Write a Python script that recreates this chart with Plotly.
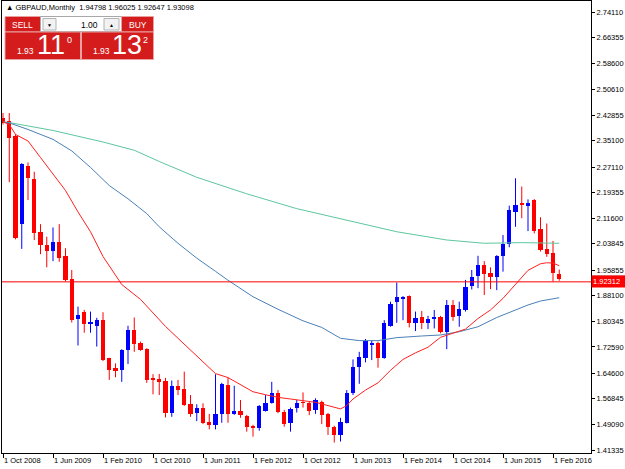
import plotly.graph_objects as go
import pandas as pd

# ---------------- data ----------------
months = [p.strftime("%Y-%m") for p in pd.period_range("2008-10", "2016-03", freq="M")]

open_ = [2.420, 2.410, 2.365, 2.097, 2.274, 2.235, 2.075, 2.035, 2.018, 2.045,
         2.001, 1.932, 1.810, 1.831, 1.794, 1.790, 1.807, 1.691, 1.661, 1.656,
         1.717, 1.777, 1.739, 1.719, 1.630, 1.628, 1.624, 1.527, 1.608, 1.598,
         1.553, 1.525, 1.542, 1.499, 1.489, 1.523, 1.610, 1.523, 1.532, 1.517,
         1.487, 1.481, 1.533, 1.557, 1.587, 1.530, 1.494, 1.542, 1.558, 1.557,
         1.535, 1.560, 1.523, 1.484, 1.459, 1.496, 1.585, 1.664, 1.693, 1.732,
         1.739, 1.693, 1.790, 1.861, 1.872, 1.880, 1.797, 1.817, 1.799, 1.813,
         1.817, 1.772, 1.853, 1.821, 1.838, 1.911, 1.941, 1.974, 1.949, 1.939,
         2.001, 2.038, 2.136, 2.160, 2.154, 2.171, 2.083, 2.023, 2.010, 1.94798]
high = [2.435, 2.435, 2.370, 2.283, 2.285, 2.257, 2.098, 2.060, 2.088, 2.098,
        2.025, 1.959, 1.848, 1.838, 1.833, 1.814, 1.831, 1.693, 1.676, 1.719,
        1.790, 1.815, 1.742, 1.722, 1.643, 1.644, 1.632, 1.624, 1.626, 1.651,
        1.580, 1.552, 1.555, 1.523, 1.643, 1.617, 1.632, 1.608, 1.565, 1.520,
        1.490, 1.550, 1.580, 1.620, 1.595, 1.535, 1.542, 1.565, 1.588, 1.560,
        1.570, 1.563, 1.526, 1.487, 1.511, 1.595, 1.688, 1.711, 1.750, 1.745,
        1.742, 1.807, 1.863, 1.921, 1.880, 1.882, 1.833, 1.835, 1.820, 1.838,
        1.820, 1.868, 1.868, 1.863, 1.929, 1.959, 2.002, 1.986, 1.967, 2.004,
        2.065, 2.154, 2.237, 2.212, 2.173, 2.174, 2.119, 2.100, 2.047, 1.96025]
low = [2.400, 2.225, 2.052, 2.023, 2.171, 2.050, 2.007, 1.967, 1.986, 1.984,
       1.925, 1.800, 1.730, 1.769, 1.769, 1.727, 1.683, 1.626, 1.634, 1.620,
       1.674, 1.711, 1.714, 1.617, 1.582, 1.580, 1.512, 1.514, 1.580, 1.547,
       1.514, 1.501, 1.492, 1.476, 1.476, 1.496, 1.496, 1.520, 1.511, 1.469,
       1.454, 1.472, 1.530, 1.554, 1.525, 1.484, 1.469, 1.527, 1.542, 1.519,
       1.523, 1.492, 1.459, 1.436, 1.439, 1.494, 1.580, 1.614, 1.679, 1.686,
       1.663, 1.690, 1.787, 1.799, 1.807, 1.785, 1.774, 1.780, 1.780, 1.782,
       1.767, 1.719, 1.805, 1.787, 1.833, 1.900, 1.904, 1.883, 1.901, 1.898,
       1.954, 2.028, 2.090, 2.116, 2.077, 2.070, 2.015, 1.999, 1.924, 1.92647]
close = [2.405, 2.360, 2.057, 2.280, 2.239, 2.072, 2.035, 2.018, 2.045, 1.996,
         1.929, 1.807, 1.823, 1.794, 1.802, 1.807, 1.686, 1.656, 1.654, 1.717,
         1.777, 1.734, 1.717, 1.626, 1.627, 1.620, 1.525, 1.606, 1.595, 1.550,
         1.523, 1.542, 1.496, 1.489, 1.523, 1.613, 1.523, 1.533, 1.519, 1.484,
         1.481, 1.548, 1.557, 1.587, 1.530, 1.492, 1.537, 1.557, 1.556, 1.533,
         1.565, 1.519, 1.484, 1.459, 1.497, 1.587, 1.666, 1.696, 1.745, 1.737,
         1.693, 1.797, 1.856, 1.878, 1.874, 1.797, 1.815, 1.799, 1.812, 1.815,
         1.772, 1.853, 1.817, 1.840, 1.907, 1.939, 1.974, 1.946, 1.939, 2.001,
         2.038, 2.141, 2.156, 2.157, 2.163, 2.077, 2.020, 2.007, 1.949, 1.93098]

# moving averages (bar index, value)
ma_red_idx = [0, 1, 2, 4, 6, 8, 10, 12, 14, 16, 18, 19, 22, 24, 26, 28, 30, 32, 34, 36,
              38, 40, 42, 44, 46, 48, 50, 52, 54, 55, 56, 58, 60, 62, 64, 66, 68, 70,
              72, 74, 76, 78, 80, 82, 84, 86, 87, 88, 89]
ma_red_val = [2.408, 2.40, 2.37, 2.35, 2.30, 2.25, 2.20, 2.135, 2.075, 2.00, 1.945, 1.915,
              1.87, 1.828, 1.788, 1.752, 1.716, 1.68, 1.645, 1.633, 1.612, 1.59, 1.581,
              1.573, 1.568, 1.562, 1.558, 1.548, 1.538, 1.548, 1.568, 1.595, 1.617, 1.655,
              1.688, 1.708, 1.725, 1.755, 1.768, 1.78, 1.812, 1.838, 1.873, 1.915, 1.958,
              1.978, 1.981, 1.980, 1.972]
ma_blue_idx = [0, 1, 4, 8, 11, 14, 17, 20, 23, 25, 28, 31, 34, 36, 40, 44, 48, 51, 54,
               57, 60, 63, 67, 70, 73, 76, 79, 82, 84, 86, 89]
ma_blue_val = [2.408, 2.405, 2.385, 2.355, 2.32, 2.27, 2.215, 2.175, 2.13, 2.09, 2.04,
               1.995, 1.955, 1.928, 1.878, 1.84, 1.805, 1.785, 1.752, 1.745, 1.745, 1.754,
               1.759, 1.762, 1.772, 1.787, 1.815, 1.838, 1.853, 1.865, 1.875]
ma_green_idx = [0, 1, 8, 16, 21, 25, 31, 39, 47, 55, 63, 71, 77, 83, 89]
ma_green_val = [2.408, 2.406, 2.382, 2.347, 2.322, 2.288, 2.24, 2.19, 2.145, 2.11,
                2.075, 2.05, 2.04, 2.042, 2.04]

y_ticks = [2.74110, 2.66355, 2.58600, 2.50610, 2.42855, 2.35100, 2.27110, 2.19355,
           2.11600, 2.03845, 1.95855, 1.88100, 1.80345, 1.72590, 1.64600, 1.56845,
           1.49090, 1.41335]
x_tick_idx = list(range(0, 90, 8))
x_tick_text = ["1 Oct 2008", "1 Jun 2009", "1 Feb 2010", "1 Oct 2010", "1 Jun 2011",
               "1 Feb 2012", "1 Oct 2012", "1 Jun 2013", "1 Feb 2014", "1 Oct 2014",
               "1 Jun 2015", "1 Feb 2016"]
bid_price = 1.92312
header = "▲ GBPAUD,Monthly  1.94798 1.96025 1.92647 1.93098"

# ---------------- figure ----------------
W, H = 625, 469
ML, MR, MT, MB = 2, 34, 1, 16
PW, PH = W - ML - MR, H - MT - MB
BAR_PX = 6.25
x_lo = -1.0 / BAR_PX
x_hi = x_lo + PW / BAR_PX
y_lo, y_hi = 1.40433, 2.77444

UP, DN = "#0000ff", "#ff0000"
FONT = "Liberation Sans, Arial, sans-serif"

fig = go.Figure()

# wicks
for want_up, col in ((True, UP), (False, DN)):
    wx, wy = [], []
    for i, m in enumerate(months):
        if (close[i] >= open_[i]) == want_up:
            wx += [m, m, None]
            wy += [low[i], high[i], None]
    fig.add_trace(go.Scatter(x=wx, y=wy, mode="lines", line=dict(color=col, width=1),
                             hoverinfo="skip", connectgaps=False))

# bodies
for want_up, col in ((True, UP), (False, DN)):
    bx, bb, bh = [], [], []
    for i, m in enumerate(months):
        if (close[i] >= open_[i]) == want_up:
            lo_, hi_ = min(open_[i], close[i]), max(open_[i], close[i])
            bx.append(m)
            bb.append(lo_)
            bh.append(max(hi_ - lo_, 0.0025))
    fig.add_trace(go.Bar(x=bx, y=bh, base=bb, width=0.66, marker=dict(color=col, line=dict(width=0)),
                         hoverinfo="skip"))

# moving averages
fig.add_trace(go.Scatter(x=[months[i] for i in ma_green_idx], y=ma_green_val, mode="lines",
                         line=dict(color="#5cc79e", width=1), hoverinfo="skip"))
fig.add_trace(go.Scatter(x=[months[i] for i in ma_blue_idx], y=ma_blue_val, mode="lines",
                         line=dict(color="#4a80b8", width=1), hoverinfo="skip"))
fig.add_trace(go.Scatter(x=[months[i] for i in ma_red_idx], y=ma_red_val, mode="lines",
                         line=dict(color="#ff2020", width=1), hoverinfo="skip"))

def px(x):
    return (x - ML) / PW

def py(y):
    return 1 - (y - MT) / PH

shapes = []
annos = []

# bid line
shapes.append(dict(type="line", xref="paper", yref="y", x0=0, x1=1, y0=bid_price, y1=bid_price,
                   line=dict(color="#ff0000", width=1)))
annos.append(dict(xref="paper", yref="y", x=1.0, y=bid_price, xanchor="left", yanchor="middle",
                  text=bid_price.__format__(".5f"), showarrow=False, bgcolor="#ff0000",
                  font=dict(family=FONT, size=7.5, color="white"), borderpad=1, width=31,
                  align="left"))
shapes.append(dict(type="line", xref="paper", yref="paper", x0=1.0, x1=px(W), y0=py(276.5), y1=py(276.5),
                   line=dict(color="black", width=1.5)))

# header
annos.append(dict(xref="paper", yref="paper", x=px(4), y=py(7.5), xanchor="left", yanchor="middle",
                  text=header, showarrow=False, font=dict(family=FONT, size=7.5, color="black")))

# one-click trading panel
RED = "#d41c1c"
def rect(x0, y0, x1, y1, fill, line="#e8a0a0", lw=1):
    shapes.append(dict(type="rect", xref="paper", yref="paper", x0=px(x0), x1=px(x1), y0=py(y1), y1=py(y0),
                       fillcolor=fill, line=dict(color=line, width=lw), layer="above"))

def text(x, y, s, size, color="white", anchor="center"):
    annos.append(dict(xref="paper", yref="paper", x=px(x), y=py(y), xanchor=anchor, yanchor="middle",
                      text=s, showarrow=False, font=dict(family=FONT, size=size, color=color)))

rect(5, 16.5, 40.5, 32, RED)
text(22.5, 24.5, "SELL", 8.5)
rect(40.5, 16.5, 121.5, 31.5, "white", "#a8a8a8")
rect(43, 18.5, 56, 30, "#f2f2f2", "#b4b4b4")
text(49.5, 24.5, "▼", 5, "black")
text(100, 24.5, "1.00", 8.5, "black", "right")
rect(104, 18.5, 119, 30, "#f2f2f2", "#b4b4b4")
text(111.5, 24.5, "▲", 5, "black")
rect(121.5, 16.5, 153.5, 32, RED)
text(137.5, 24.5, "BUY", 8.5)
rect(5, 32, 80.5, 59.5, RED)
rect(81.5, 32, 153.5, 59.5, RED)
text(25, 51.5, "1.93", 8.5, anchor="center")
text(51, 44.5, "11", 27)
text(69.5, 40, "0", 9)
text(101.5, 51.5, "1.93", 8.5)
text(127, 44.5, "13", 27)
text(145.5, 40, "2", 9)

fig.update_layout(
    width=W, height=H, margin=dict(l=ML, r=MR, t=MT, b=MB, pad=0),
    plot_bgcolor="white", paper_bgcolor="white", showlegend=False,
    barmode="overlay", bargap=0, shapes=shapes, annotations=annos,
    xaxis=dict(type="category", categoryorder="array", categoryarray=months,
               range=[x_lo, x_hi], tickvals=[months[i] for i in x_tick_idx], ticktext=x_tick_text,
               ticks="outside", ticklen=4, tickcolor="black", tickwidth=1,
               ticklabelposition="outside right",
               tickfont=dict(family=FONT, size=7.5, color="black"),
               showline=True, linecolor="black", linewidth=1, mirror=True,
               showgrid=False, zeroline=False, fixedrange=True),
    yaxis=dict(side="right", range=[y_lo, y_hi], tickvals=y_ticks,
               ticktext=[f"{v:.5f}" for v in y_ticks],
               ticks="outside", ticklen=3, tickcolor="black", tickwidth=1,
               tickfont=dict(family=FONT, size=7.5, color="black"),
               showline=True, linecolor="black", linewidth=1, mirror=True,
               showgrid=False, zeroline=False, fixedrange=True),
)

fig.write_html("out.html", config={"displayModeBar": False})
